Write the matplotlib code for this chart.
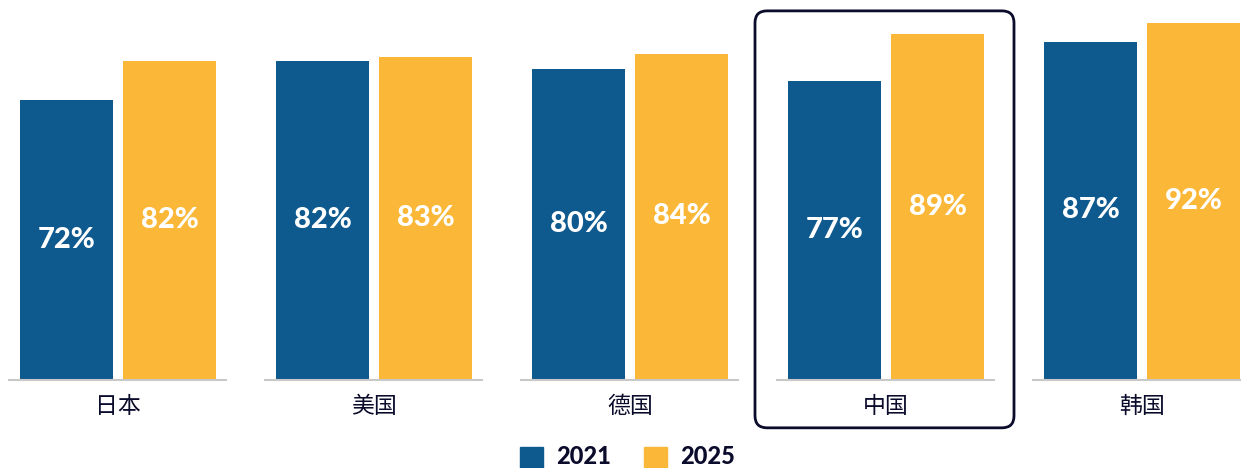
import matplotlib
matplotlib.use("Agg")
import matplotlib.pyplot as plt
from matplotlib.patches import FancyBboxPatch, Rectangle

plt.rcParams["font.family"] = ["Lato", "Noto Sans CJK SC", "DejaVu Sans"]

# Dados
paises = ["日本", "美国", "德国", "中国", "韩国"]
anos = ["2021", "2025"]
v2021 = [72, 82, 80, 77, 87]
v2025 = [82, 83, 84, 89, 92]
destaque = "中国"

azul = "#0e5a8f"
amarelo = "#fbb737"
texto = "#0b0b2b"

W, H = 1241, 468
fig = plt.figure(figsize=(W / 100, H / 100), dpi=100)
ax = fig.add_axes([0, 89 / H, 1, 379 / H])
passo = 256.0
px_pct = 3.875
ax.set_xlim(-118 / passo, (W - 118) / passo)
ax.set_ylim(0, 379 / px_pct)
ax.axis("off")

larg = 93 / passo
off = 51.5 / passo
x = list(range(len(paises)))

ax.bar([i - off for i in x], v2021, width=larg, color=azul)
ax.bar([i + off for i in x], v2025, width=larg, color=amarelo)

for i, (a, b) in enumerate(zip(v2021, v2025)):
    ax.text(i - off, a / 2, f"{a}%", color="white", fontsize=21, fontweight=900,
            ha="center", va="center")
    ax.text(i + off, b / 2, f"{b}%", color="white", fontsize=21, fontweight=900,
            ha="center", va="center")
    # linha base de cada grupo
    ax.plot([i - 110 / passo, i + 109 / passo], [-0.2, -0.2], color="#c8c8c8",
            lw=1.5, clip_on=False, solid_capstyle="butt")
    ax.text(i, -7.0, paises[i], color=texto, fontsize=16.5,
            family=["Noto Sans CJK SC"], ha="center", va="center", clip_on=False)

# caixa de destaque
k = paises.index(destaque)
x0 = k - 0.5 - 3 / passo
caixa = FancyBboxPatch((x0, -12.6), 1.0 + 3 / passo, 95.0 + 12.6,
                       boxstyle="round,pad=0,rounding_size=0.047",
                       mutation_aspect=66, fill=False, ec=texto, lw=2,
                       clip_on=False)
ax.add_patch(caixa)

# legenda
for cor, ano, xq, xt in [(azul, anos[0], 520, 556), (amarelo, anos[1], 644, 680)]:
    fig.patches.append(Rectangle((xq / W, (H - 470) / H), 23 / W, 23 / H,
                                 transform=fig.transFigure, color=cor))
    fig.text(xt / W, (H - 457) / H, ano, color=texto, fontsize=17,
             fontweight=900, ha="left", va="center")

fig.savefig("out.png", dpi=100)
